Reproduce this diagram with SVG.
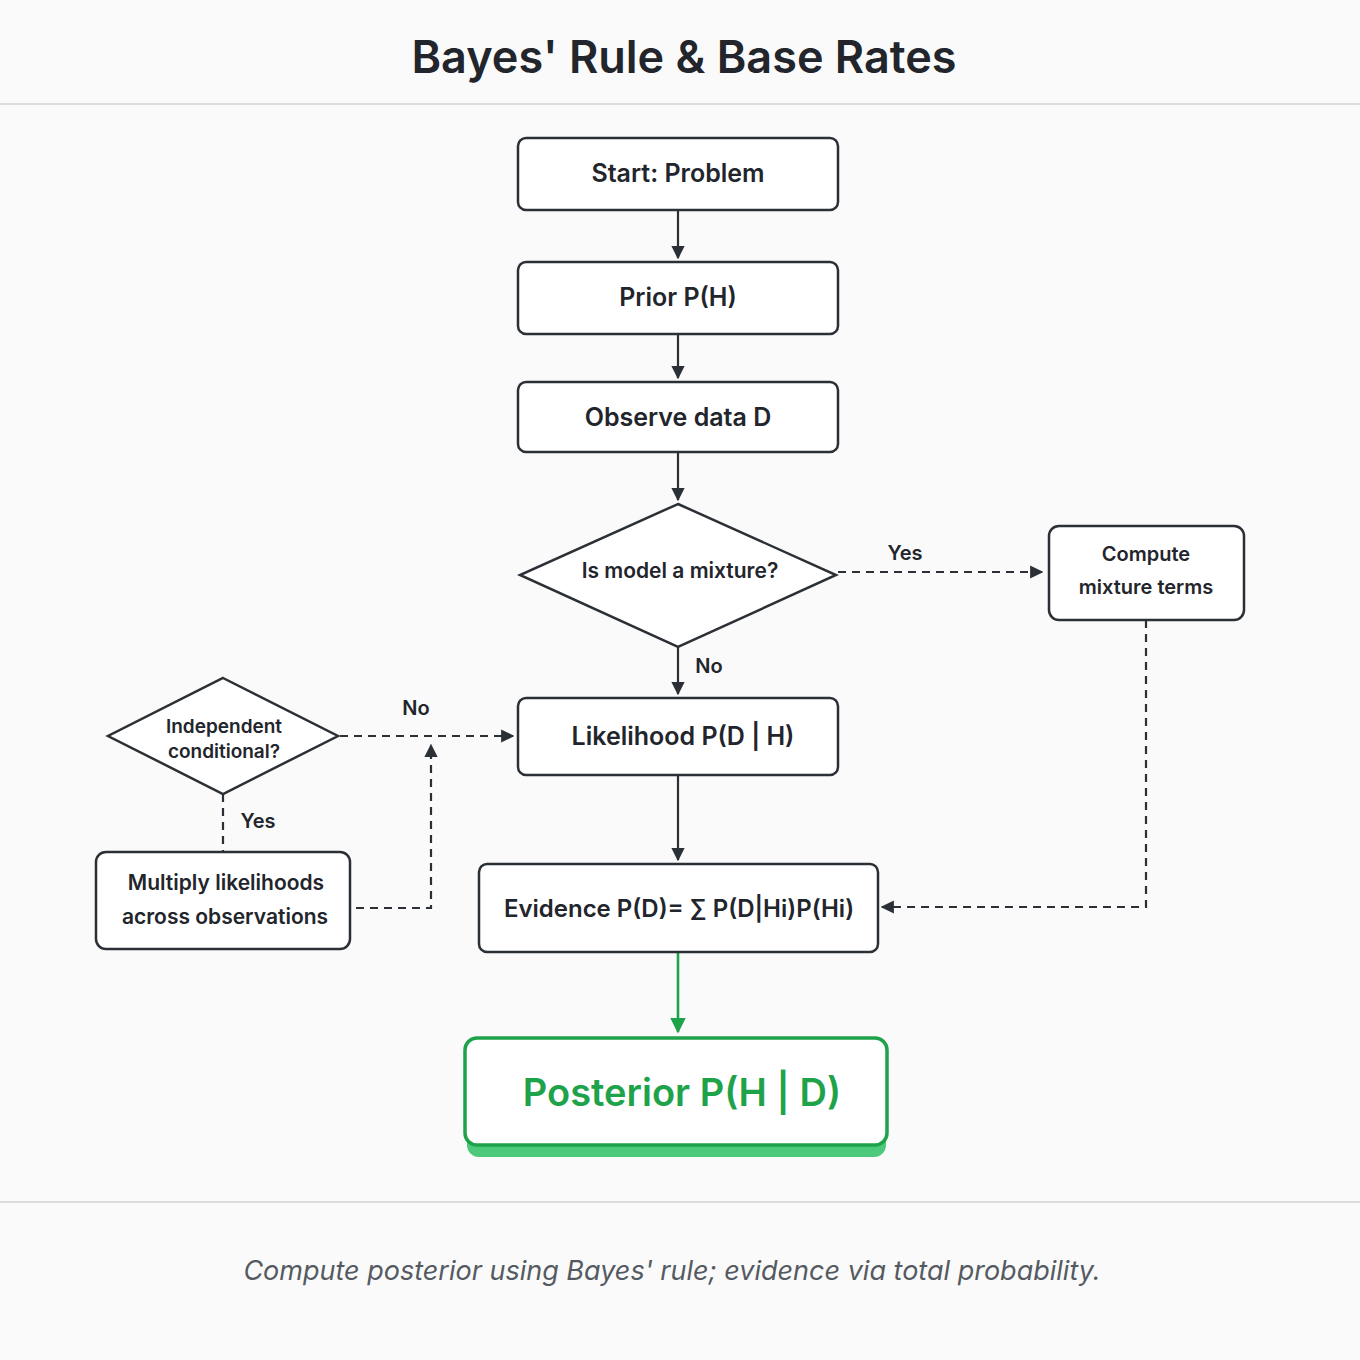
<svg xmlns="http://www.w3.org/2000/svg" width="1360" height="1360" viewBox="0 0 1360 1360">
<style>
.n{fill:#fff;stroke:#2b2f36;stroke-width:2.5}
.t{font-family:Inter,"Liberation Sans",sans-serif;fill:#22252b;font-weight:600;text-anchor:middle}
.c{stroke:#2b2f36;stroke-width:2.2;fill:none}
.d{stroke-dasharray:8 6}
</style>
<defs>
<marker id="a" viewBox="0 0 10 10" refX="9" refY="5" markerWidth="6" markerHeight="6" orient="auto"><path d="M0,0L10,5L0,10z" fill="#2b2f36"/></marker>
<marker id="g" viewBox="0 0 10 10" refX="9" refY="5" markerWidth="6" markerHeight="6" orient="auto"><path d="M0,0L10,5L0,10z" fill="#1fa34a"/></marker>
</defs>
<rect width="1360" height="1360" fill="#fafafa"/>
<text x="684" y="73" class="t" font-size="45" font-weight="700">Bayes' Rule &amp; Base Rates</text>
<line x1="0" y1="104" x2="1360" y2="104" stroke="#dcdcdc" stroke-width="2"/>
<line x1="0" y1="1202" x2="1360" y2="1202" stroke="#dcdcdc" stroke-width="2"/>
<text x="672" y="1280" font-family="Inter,'Liberation Sans',sans-serif" font-style="italic" font-size="27" fill="#555a62" text-anchor="middle">Compute posterior using Bayes' rule; evidence via total probability.</text>
<g id="connectors">
<path class="c" d="M678,210V258" marker-end="url(#a)"/>
<path class="c" d="M678,334V378" marker-end="url(#a)"/>
<path class="c" d="M678,452V500" marker-end="url(#a)"/>
<path class="c" d="M678,647V694" marker-end="url(#a)"/>
<text x="709" y="673" class="t" font-size="20">No</text>
<path class="c d" d="M838,572H1042" marker-end="url(#a)"/>
<text x="905" y="560" class="t" font-size="20">Yes</text>
<path class="c d" d="M1146,620V907H882" marker-end="url(#a)"/>
<path class="c d" d="M340,736H513" marker-end="url(#a)"/>
<text x="416" y="715" class="t" font-size="20">No</text>
<path class="c d" d="M223,794V852"/>
<text x="258" y="828" class="t" font-size="20">Yes</text>
<path class="c d" d="M356,908H431V745" marker-end="url(#a)"/>
<path class="c" d="M678,775V860" marker-end="url(#a)"/>
<path d="M678,952V1032" stroke="#1fa34a" stroke-width="2.6" fill="none" marker-end="url(#g)"/>
</g>
<g id="start"><rect class="n" x="518" y="138" width="320" height="72" rx="8"/><text x="678" y="182" class="t" font-size="25">Start: Problem</text></g>
<g id="prior"><rect class="n" x="518" y="262" width="320" height="72" rx="8"/><text x="678" y="306" class="t" font-size="25">Prior P(H)</text></g>
<g id="observe"><rect class="n" x="518" y="382" width="320" height="70" rx="8"/><text x="678" y="426" class="t" font-size="25">Observe data D</text></g>
<g id="mixture"><path class="n" d="M678,504L836,575L678,647L520,575Z"/><text x="680" y="578" class="t" font-size="21">Is model a mixture?</text></g>
<g id="compute"><rect class="n" x="1049" y="526" width="195" height="94" rx="10"/><text x="1146" y="561" class="t" font-size="20">Compute</text><text x="1146" y="594" class="t" font-size="20">mixture terms</text></g>
<g id="likelihood"><rect class="n" x="518" y="698" width="320" height="77" rx="8"/><text x="683" y="745" class="t" font-size="25">Likelihood  P(D | H)</text></g>
<g id="independent"><path class="n" d="M223,678L338,736L223,794L108,736Z"/><text x="224" y="733" class="t" font-size="19">Independent</text><text x="224" y="758" class="t" font-size="19">conditional?</text></g>
<g id="multiply"><rect class="n" x="96" y="852" width="254" height="97" rx="10"/><text x="226" y="890" class="t" font-size="21">Multiply likelihoods</text><text x="225" y="924" class="t" font-size="21">across observations</text></g>
<g id="evidence"><rect class="n" x="479" y="864" width="399" height="88" rx="8"/><text x="679" y="917" class="t" font-size="24">Evidence  P(D)= ∑ P(D|Hi)P(Hi)</text></g>
<g id="posterior"><rect x="467" y="1050" width="419" height="107" rx="12" fill="#4cc97a"/><rect x="465" y="1038" width="422" height="107" rx="12" fill="#fff" stroke="#1fa34a" stroke-width="3.5"/><text x="682" y="1106" class="t" font-size="38" font-weight="700" style="fill:#1fa34a">Posterior P(H | D)</text></g>
</svg>
